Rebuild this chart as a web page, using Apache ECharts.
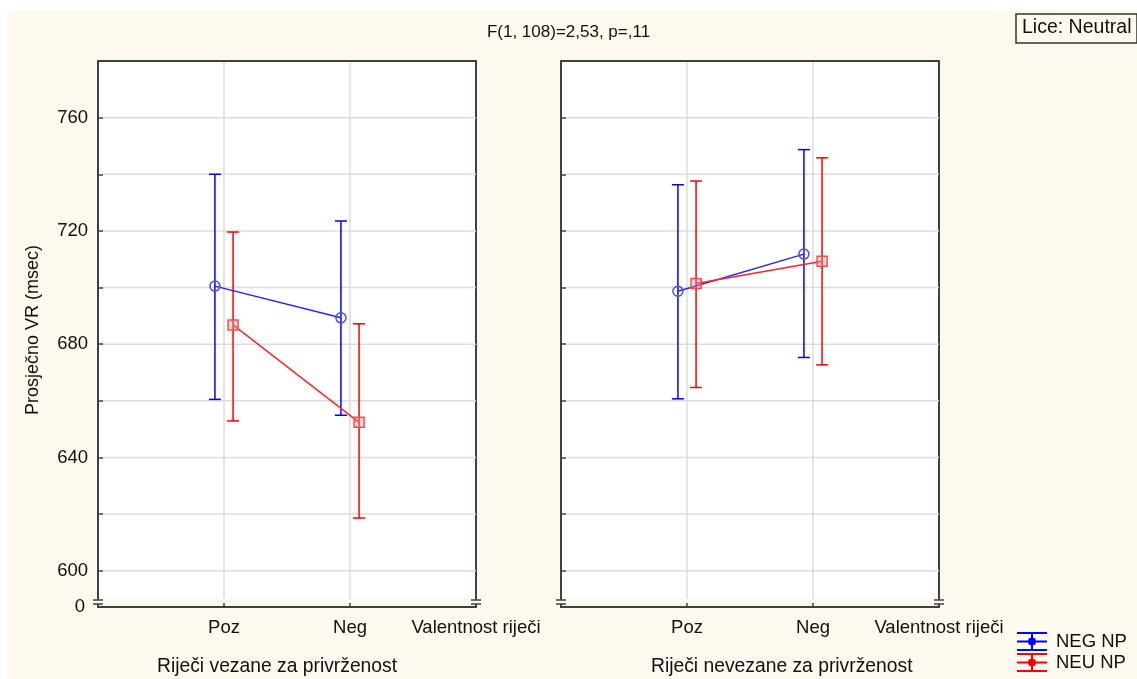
<!DOCTYPE html>
<html>
<head>
<meta charset="utf-8">
<script src="https://cdn.jsdelivr.net/npm/echarts@6/dist/echarts.min.js"></script>
<style>
  html, body { margin: 0; padding: 0; background: #ffffff; }
  #main { width: 1137px; height: 679px; }
</style>
</head>
<body>
<div id="main"></div>
<script>
// ---------------- data ----------------
const categories = ['Poz', 'Neg'];
const xAxisEndLabel = 'Valentnost riječi';
const panelTitles = ['Riječi vezane za privrženost', 'Riječi nevezane za privrženost'];
const seriesNames = ['NEG NP', 'NEU NP'];
const yLabelValues = [600, 640, 680, 720, 760];
const yTickValues = [600, 620, 640, 660, 680, 700, 720, 740, 760];
const yBreakLabel = '0';
const chartTitle = 'F(1, 108)=2,53, p=,11';
const factorLabel = 'Lice: Neutral';
const yAxisTitle = 'Prosječno VR (msec)';

// Panel 1: Riječi vezane za privrženost
const negMeanA = [700.5, 689.3];
const negLowA  = [660.5, 654.9];
const negHighA = [740.0, 723.5];
const neuMeanA = [686.8, 652.4];
const neuLowA  = [652.9, 618.6];
const neuHighA = [719.6, 687.2];

// Panel 2: Riječi nevezane za privrženost
const negMeanB = [698.7, 711.8];
const negLowB  = [660.7, 675.3];
const negHighB = [736.3, 748.7];
const neuMeanB = [701.4, 709.3];
const neuLowB  = [664.7, 672.7];
const neuHighB = [737.6, 745.8];

// ---------------- style / layout ----------------
const FONT = '"Liberation Sans", Arial, sans-serif';
const TXT = '#111111';
const AXC = '#404040';
const GRIDC = '#dcdcdc';
const BLUE = '#0000ff';
const RED = '#ff0000';
const DODGE = 0.072;
const Y_MIN = 590, Y_MAX = 780;
const X_MIN = 0, X_MAX = 3;
const gridsPx = [
  { left: 98, top: 61, width: 378, height: 538 },
  { left: 561, top: 61, width: 378, height: 538 }
];

const chart = echarts.init(document.getElementById('main'), null, { renderer: 'canvas' });

const xLabelMap = { 1: categories[0], 2: categories[1], 3: xAxisEndLabel };

function xAxes(gi) {
  return [
    {
      gridIndex: gi, type: 'value', min: X_MIN, max: X_MAX, interval: 1, position: 'bottom', offset: 8,
      axisLine: { show: true, onZero: false, lineStyle: { color: AXC, width: 2 } },
      axisTick: { show: true, inside: true, length: 4, customValues: [1, 2], lineStyle: { color: AXC, width: 1.5 } },
      axisLabel: {
        show: true, customValues: [1, 2, 3], margin: 11, fontSize: 18.5, fontFamily: FONT, color: TXT,
        formatter: v => xLabelMap[v] || ''
      },
      splitLine: { show: true, lineStyle: { color: GRIDC, width: 1.5 } }
    },
    {
      gridIndex: gi, type: 'value', min: X_MIN, max: X_MAX, position: 'top',
      axisLine: { show: true, onZero: false, lineStyle: { color: AXC, width: 2 } },
      axisTick: { show: false }, axisLabel: { show: false }, splitLine: { show: false }
    }
  ];
}
function yAxes(gi) {
  return [
    {
      gridIndex: gi, type: 'value', min: Y_MIN, max: Y_MAX, position: 'left',
      name: gi === 0 ? yAxisTitle : '', nameLocation: 'middle', nameGap: 56,
      nameTextStyle: { fontSize: 18, fontFamily: FONT, color: TXT },
      axisLine: { show: true, onZero: false, lineStyle: { color: AXC, width: 2 } },
      axisTick: { show: true, inside: true, length: 5, customValues: yTickValues, lineStyle: { color: AXC, width: 1.5 } },
      axisLabel: { show: gi === 0, customValues: yLabelValues, margin: 10, fontSize: 18.5, fontFamily: FONT, color: TXT },
      splitLine: { show: false }
    },
    {
      gridIndex: gi, type: 'value', min: Y_MIN, max: Y_MAX, position: 'right',
      axisLine: { show: true, onZero: false, lineStyle: { color: AXC, width: 2 } },
      axisTick: { show: false }, axisLabel: { show: false }, splitLine: { show: false }
    }
  ];
}

function gridLineSeries(gi) {
  return {
    type: 'custom', name: 'grid' + gi, xAxisIndex: gi * 2, yAxisIndex: gi * 2, z: 1, silent: true,
    data: yTickValues.map(v => [v]),
    encode: { y: 0 },
    renderItem: function (params, api) {
      const v = api.value(0);
      const p1 = api.coord([X_MIN, v]);
      const p2 = api.coord([X_MAX, v]);
      return { type: 'line', shape: { x1: p1[0] + 5, y1: p1[1], x2: p2[0], y2: p2[1] },
               style: { stroke: GRIDC, lineWidth: 1.5 } };
    }
  };
}

function errorSeries(gi, name, color, low, high, dodge) {
  return {
    type: 'custom', name: name, xAxisIndex: gi * 2, yAxisIndex: gi * 2, z: 4,
    data: categories.map((c, i) => [i + 1 + dodge, low[i], high[i]]),
    encode: { x: 0, y: [1, 2] },
    renderItem: function (params, api) {
      const x = api.value(0);
      const pL = api.coord([x, api.value(1)]);
      const pH = api.coord([x, api.value(2)]);
      const w = 6;
      const st = { stroke: color, lineWidth: 1.5 };
      return {
        type: 'group',
        children: [
          { type: 'line', shape: { x1: pL[0], y1: pL[1], x2: pH[0], y2: pH[1] }, style: st },
          { type: 'line', shape: { x1: pH[0] - w, y1: pH[1], x2: pH[0] + w, y2: pH[1] }, style: st },
          { type: 'line', shape: { x1: pL[0] - w, y1: pL[1], x2: pL[0] + w, y2: pL[1] }, style: st }
        ]
      };
    }
  };
}

function meanSeries(gi, name, mean, dodge, isBlue) {
  return {
    type: 'line', name: name, xAxisIndex: gi * 2, yAxisIndex: gi * 2, z: 5,
    data: categories.map((c, i) => [i + 1 + dodge, mean[i]]),
    symbol: isBlue ? 'circle' : 'rect',
    symbolSize: 10,
    itemStyle: isBlue
      ? { color: 'rgba(255,255,255,0)', borderColor: '#4b4bff', borderWidth: 1.5 }
      : { color: 'rgba(255,150,150,0.35)', borderColor: '#ff4a4a', borderWidth: 1.5 },
    lineStyle: { color: isBlue ? '#2525ff' : '#ff2525', width: 1.5 },
    animation: false
  };
}

const series = [];
[[negMeanA, negLowA, negHighA, neuMeanA, neuLowA, neuHighA],
 [negMeanB, negLowB, negHighB, neuMeanB, neuLowB, neuHighB]].forEach((d, gi) => {
  series.push(gridLineSeries(gi));
  series.push(errorSeries(gi, seriesNames[0], BLUE, d[1], d[2], -DODGE));
  series.push(errorSeries(gi, seriesNames[1], RED, d[4], d[5], DODGE));
  series.push(meanSeries(gi, seriesNames[0], d[0], -DODGE, true));
  series.push(meanSeries(gi, seriesNames[1], d[3], DODGE, false));
});

// decorative axis breaks
const graphics = [
  { type: 'rect', shape: { x: 0, y: 0, width: 1137, height: 10 }, style: { fill: '#ffffff' }, silent: true },
  { type: 'rect', shape: { x: 0, y: 0, width: 7, height: 679 }, style: { fill: '#ffffff' }, silent: true }
];
gridsPx.forEach(g => {
  const b = g.top + g.height;
  [g.left, g.left + g.width].forEach(x => {
    const st = { stroke: AXC, lineWidth: 1.5 };
    graphics.push({ type: 'line', shape: { x1: x - 5, y1: b + 1, x2: x + 5, y2: b + 1 }, style: st, silent: true });
    graphics.push({ type: 'line', shape: { x1: x - 5, y1: b + 5, x2: x + 5, y2: b + 5 }, style: st, silent: true });
    graphics.push({ type: 'line', shape: { x1: x, y1: b + 5, x2: x, y2: b + 9 }, style: { stroke: AXC, lineWidth: 2 }, silent: true });
  });
});
graphics.push({
  type: 'text', x: gridsPx[0].left - 13, y: gridsPx[0].top + gridsPx[0].height + 8,
  style: { text: yBreakLabel, fontSize: 18.5, fontFamily: FONT, fill: TXT, align: 'right', verticalAlign: 'middle' }
});

const legendIcon = 'path://M0,0H30V2H0ZM0,8.5H30V10.5H0ZM0,17H30V19H0ZM14,0H16V19H14ZM15,5.5A4,4 0 1,1 14.99,5.5Z';

const option = {
  backgroundColor: '#fef9ee',
  animation: false,
  title: [
    { text: chartTitle, left: 'center', top: 24, padding: 0,
      textStyle: { fontSize: 17, fontWeight: 'normal', fontFamily: FONT, color: TXT } },
    { text: factorLabel, left: 1016, top: 14, padding: [4, 6, 5, 6],
      borderColor: '#333', borderWidth: 1.5,
      textStyle: { fontSize: 19.5, fontWeight: 'normal', fontFamily: FONT, color: TXT } },
    { text: panelTitles[0], left: 157, top: 657, padding: 0,
      textStyle: { fontSize: 19.3, fontWeight: 'normal', fontFamily: FONT, color: TXT } },
    { text: panelTitles[1], left: 651, top: 657, padding: 0,
      textStyle: { fontSize: 19.3, fontWeight: 'normal', fontFamily: FONT, color: TXT } }
  ],
  legend: {
    orient: 'vertical', left: 1017, top: 632, padding: 0,
    itemWidth: 30, itemHeight: 19, itemGap: 2,
    textStyle: { fontSize: 18.5, fontFamily: FONT, color: TXT, padding: [0, 0, 0, 4] },
    data: [
      { name: seriesNames[0], icon: legendIcon, itemStyle: { color: BLUE } },
      { name: seriesNames[1], icon: legendIcon, itemStyle: { color: RED } }
    ]
  },
  grid: gridsPx.map(g => Object.assign({ show: true, backgroundColor: '#ffffff', borderWidth: 0, containLabel: false }, g)),
  xAxis: [...xAxes(0), ...xAxes(1)],
  yAxis: [...yAxes(0), ...yAxes(1)],
  series: series,
  graphic: graphics
};
chart.setOption(option);
</script>
</body>
</html>
